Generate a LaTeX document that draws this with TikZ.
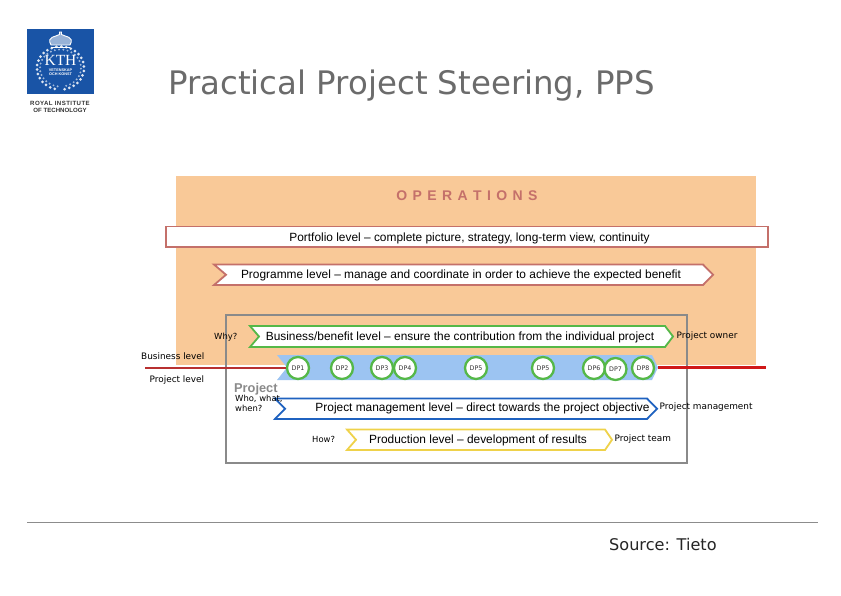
\documentclass[tikz,border=0pt]{standalone}
\usepackage{fontspec}
\setmainfont{Liberation Sans}
\newfontfamily\djv{DejaVu Sans}
\newfontfamily\lserif{Liberation Serif}
\definecolor{orangebg}{HTML}{F9C998}
\definecolor{rosered}{HTML}{C4706A}
\definecolor{greybox}{HTML}{8A8A8A}
\definecolor{greenb}{HTML}{55B848}
\definecolor{blueb}{HTML}{1F62C0}
\definecolor{yellowb}{HTML}{EFD24A}
\definecolor{band}{HTML}{9CC4F2}
\definecolor{kthblue}{HTML}{1954A6}
\definecolor{redl}{HTML}{B83030}
\definecolor{redr}{HTML}{D01818}
\tikzset{
  x=1pt,y=-1pt,
  title/.style={font=\djv\fontsize{32.4}{36}\selectfont,text=black!58,anchor=base west,inner sep=0},
  levelt/.style={font=\fontsize{11.9}{14}\selectfont,text=black,inner sep=0},
  lab/.style={font=\djv\fontsize{8.9}{10}\selectfont,text=black,inner sep=0,anchor=base west},
  labsm/.style={font=\djv\fontsize{8.4}{9}\selectfont,text=black,inner sep=0,anchor=base west},
  dp/.style={circle,draw=greenb,line width=2.3pt,fill=white,minimum size=22pt,inner sep=0,font=\djv\fontsize{6.3}{7}\selectfont,text=black!80},
  chev/.style={line width=1.8pt,fill=white,line join=miter},
  leaf/.style={white,fill=white,draw=none}
}
\newcommand{\chevron}[7]{% left notch right tip top bottom colour
  \draw[chev,draw=#7] (#1,#5) -- (#3,#5) -- (#4,{(#5+#6)/2}) -- (#3,#6) -- (#1,#6) -- (#2,{(#5+#6)/2}) -- cycle;}
\begin{document}
\begin{tikzpicture}
\useasboundingbox (0,0) rectangle (841,595);
\fill[white] (0,0) rectangle (841,595);
% logo
\fill[kthblue] (27,29) rectangle (94,94);
\foreach \a in {-80,-68,...,260}{
  \fill[leaf,opacity=.85] ({60.5+23.5*cos(\a)},{68-21.5*sin(\a)}) circle[radius=1.5pt];
  \fill[leaf,opacity=.6] ({60.5+20.5*cos(\a+6)},{68-18.5*sin(\a+6)}) circle[radius=1.1pt];}
\draw[white,line width=.9pt,fill=white!55!kthblue] (51,45) .. controls (46,36) and (56,37) .. (59.5,34.5) -- (59.5,32) -- (61.5,32) -- (61.5,34.5) .. controls (65,37) and (75,36) .. (70,45) -- cycle;
\draw[white,line width=1pt] (51,47) -- (70,47);
\node[inner sep=0,text=white,font=\lserif\fontsize{15.5}{15}\selectfont] (kth) at (60.5,60.5) {KTH};
\node[inner sep=0,text=white,font=\bfseries\fontsize{3.8}{4.4}\selectfont,align=center] (motto) at (60.5,72) {VETENSKAP\\OCH KONST};
\node[inner sep=0,font=\bfseries\fontsize{6.1}{7}\selectfont,align=center,text=black!80] (royal) at (60,106.5) {\addfontfeatures{LetterSpace=7}ROYAL INSTITUTE\\OF TECHNOLOGY};
% title
\node[title] (ttl) at (168,94) {Practical Project Steering, PPS};
% background
\fill[orangebg] (176,176) rectangle (756,365);
\node[inner sep=0,text=rosered,font=\bfseries\fontsize{14}{16}\selectfont] (ops) at (467,195.5) {O\hspace{5.4pt}P\hspace{5.4pt}E\hspace{5.4pt}R\hspace{5.4pt}A\hspace{5.4pt}T\hspace{5.4pt}I\hspace{5.4pt}O\hspace{5.4pt}N\hspace{5.4pt}S};
% portfolio
\draw[rosered,line width=1.8pt,fill=white] (166,226.5) rectangle (768,247);
\node[levelt] (pf) at (469.5,238.5) {Portfolio level – complete picture, strategy, long-term view, continuity};
% programme
\chevron{214}{226}{703}{713}{264.5}{285}{rosered}
\node[levelt] (pg) at (461,275.5) {Programme level – manage and coordinate in order to achieve the expected benefit};
% project box
\fill[white] (226,365) rectangle (687,463);
\draw[greybox,line width=1.8pt] (226,315) rectangle (687,463);
% band
\fill[band] (277,355) -- (652,355) -- (658,367.5) -- (652,380) -- (277,380) -- (287,367.5) -- cycle;
% red line
\coordinate (rl1) at (145,368);
\coordinate (rr1) at (658,367.5);
\coordinate (rr2) at (766,367.5);
% green
\chevron{250}{259}{665}{673}{326}{347}{greenb}
\node[levelt] (bb) at (460,337.5) {Business/benefit level – ensure the contribution from the individual project};
% DPs
\node[dp] (d1) at (298,368) {DP1};
\node[dp] (d2) at (342,368) {DP2};
\node[dp] (d3) at (382,368) {DP3};
\node[dp] (d4) at (405,368) {DP4};
\node[dp] (d5) at (476,368) {DP5};
\node[dp] (d5b) at (543,368) {DP5};
\node[dp] (d6) at (594,368) {DP6};
\node[dp] (d7) at (615.5,369) {DP7};
\node[dp] (d8) at (643,368) {DP8};
\draw[redl,line width=2pt] (rl1) -- (d1.west);
\draw[redr,line width=2.2pt] (rr1) -- (rr2);
% blue
\chevron{275}{285}{647}{657}{398.5}{419}{blueb}
\node[levelt] (pm) at (482.5,408) {Project management level – direct towards the project objective};
% yellow
\chevron{347}{356}{605}{612}{429.5}{450}{yellowb}
\node[levelt] (pr) at (478,440) {Production level – development of results};
% labels
\node[labsm] (why) at (214,339) {Why?};
\node[lab] (bl) at (141,359.5) {Business level};
\node[lab] (plv) at (149.5,382) {Project level};
\node[inner sep=0,anchor=base west,text=greybox,font=\bfseries\fontsize{12.8}{14}\selectfont] (prj) at (234,392) {Project};
\node[labsm] (who) at (235,401) {Who, what,};
\node[labsm] (when) at (235,411) {when?};
\node[labsm] (how) at (312,442) {How?};
\node[lab] (po) at (676.5,338) {Project owner};
\node[lab] (pmg) at (659.5,409) {Project management};
\node[lab] (pt) at (614.5,441) {Project team};
% footer
\draw[black!45,line width=.8pt] (27,522) -- (818,522);
\node[inner sep=0,anchor=base west,font=\djv\fontsize{16.1}{18}\selectfont,text=black!85] (src) at (609,550) {Source: Tieto};
\end{tikzpicture}
\end{document}
